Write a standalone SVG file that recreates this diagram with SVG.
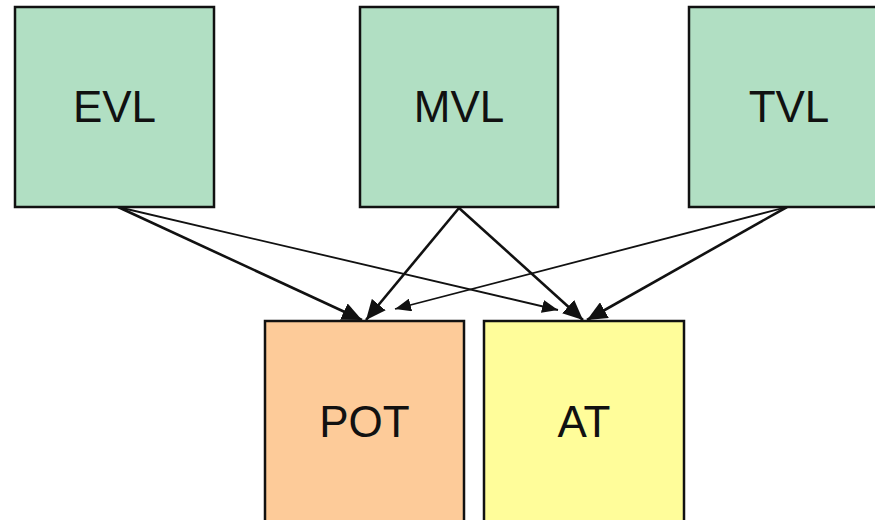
<svg xmlns="http://www.w3.org/2000/svg" width="875" height="520" viewBox="0 0 875 520">
<style>
.box{stroke:#111;stroke-width:2.5}
.g{fill:#b1dfc3}
.o{fill:#fdcb99}
.y{fill:#fffd9a}
text{font-family:"Liberation Sans",Arial,sans-serif;font-size:44px;fill:#111;text-anchor:middle}
.thick{stroke:#111;stroke-width:2.6;fill:none}
.thin{stroke:#111;stroke-width:1.8;fill:none}
</style>
<defs>
<marker id="ah" markerUnits="userSpaceOnUse" viewBox="0 0 20 18" refX="20" refY="9" markerWidth="20" markerHeight="18" orient="auto"><path d="M0,0 L20,9 L0,18 Z" fill="#111"/></marker>
<marker id="ahs" markerUnits="userSpaceOnUse" viewBox="0 0 16 13" refX="16" refY="6.5" markerWidth="16" markerHeight="13" orient="auto"><path d="M0,0 L16,6.5 L0,13 Z" fill="#111"/></marker>
</defs>
<rect width="875" height="520" fill="#fff"/>
<g id="connectors">
<line class="thick" x1="118" y1="207" x2="362" y2="320" marker-end="url(#ah)"/>
<line class="thin" x1="118" y1="207" x2="558" y2="310" marker-end="url(#ahs)"/>
<line class="thick" x1="459" y1="208" x2="366" y2="320" marker-end="url(#ah)"/>
<line class="thick" x1="459" y1="208" x2="583" y2="320" marker-end="url(#ah)"/>
<line class="thin" x1="787" y1="207" x2="395" y2="309" marker-end="url(#ahs)"/>
<line class="thick" x1="787" y1="207" x2="587" y2="320" marker-end="url(#ah)"/>
</g>
<g id="EVL"><rect class="box g" x="15" y="7" width="199" height="200"/><text x="114.5" y="122">EVL</text></g>
<g id="MVL"><rect class="box g" x="360" y="7" width="198" height="200"/><text x="459" y="122">MVL</text></g>
<g id="TVL"><rect class="box g" x="689" y="7" width="200" height="200"/><text x="789" y="122">TVL</text></g>
<g id="POT"><rect class="box o" x="265" y="321" width="199" height="210"/><text x="364.5" y="437">POT</text></g>
<g id="AT"><rect class="box y" x="484" y="321" width="200" height="210"/><text x="584" y="437">AT</text></g>
</svg>
